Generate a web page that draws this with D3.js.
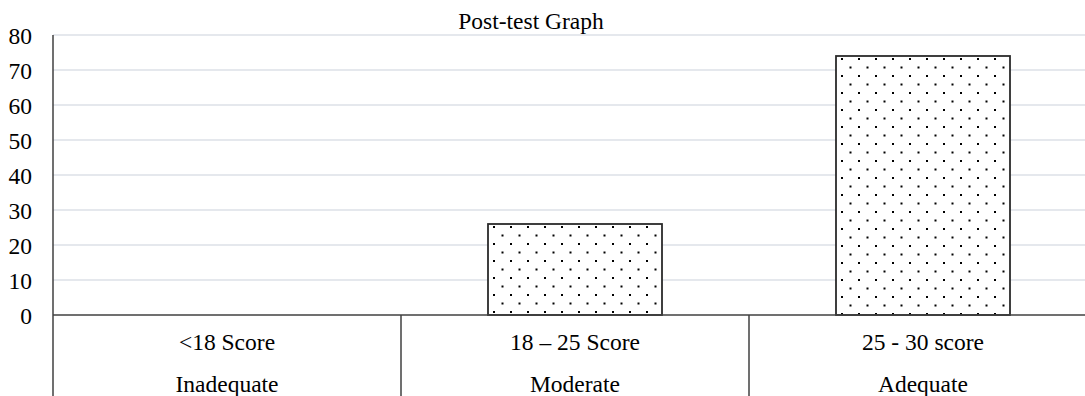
<!DOCTYPE html>
<html>
<head>
<meta charset="utf-8">
<script src="https://cdn.jsdelivr.net/npm/d3@7/dist/d3.min.js"></script>
<style>
  html, body { margin: 0; padding: 0; background: #fff; }
  svg { display: block; font-family: "Liberation Serif", "Times New Roman", serif; }
</style>
</head>
<body>
<svg id="chart" width="1085" height="396"></svg>
<script>
// Post-test score distribution
const categories = ["<18 Score", "18 \u2013 25 Score", "25 - 30 score"];
const levels = ["Inadequate", "Moderate", "Adequate"];
const values = [0, 26, 74];
const yTicks = [0, 10, 20, 30, 40, 50, 60, 70, 80];
const title = "Post-test Graph";

const W = 1085, H = 396;
const left = 53, zeroY = 315, topY = 35, bandW = 348;
const fontSize = 23.5;
const serif = "Liberation Serif, Times New Roman, serif";

const svg = d3.select("#chart");

const x = d3.scaleBand()
  .domain(categories)
  .range([left, left + bandW * categories.length])
  .paddingInner(0).paddingOuter(0);

const y = d3.scaleLinear().domain([0, 80]).range([zeroY, topY]);

// horizontal gridlines
svg.append("g")
  .selectAll("line")
  .data(yTicks.filter(t => t > 0))
  .join("line")
  .attr("x1", left).attr("x2", W)
  .attr("y1", d => y(d)).attr("y2", d => y(d))
  .attr("stroke", "#dde1e7").attr("stroke-width", 1.6);

// y tick labels
const yAxis = d3.axisLeft(y).tickValues(yTicks).tickSize(0).tickPadding(21);
const gy = svg.append("g").attr("transform", `translate(${left},0)`).call(yAxis);
gy.attr("font-family", serif);
gy.select(".domain").remove();
gy.selectAll("text")
  .attr("font-size", fontSize)
  .attr("fill", "#000")
  .attr("dy", "0.34em");

// dotted fill patterns, one per bar so the dots start at each bar's corner
const defs = svg.append("defs");
categories.forEach((c, i) => {
  const p = defs.append("pattern")
    .attr("id", "dots" + i)
    .attr("patternUnits", "userSpaceOnUse")
    .attr("width", 17).attr("height", 17)
    .attr("x", Math.round(x(c) + bandW / 4) + 5)
    .attr("y", Math.round(y(values[i])) + 2);
  p.append("rect").attr("width", 17).attr("height", 17).attr("fill", "#fff");
  p.append("rect").attr("x", 0).attr("y", 0).attr("width", 2).attr("height", 2).attr("fill", "#000");
  p.append("rect").attr("x", 8.5).attr("y", 8.5).attr("width", 2).attr("height", 2).attr("fill", "#000");
});

// bars
svg.append("g")
  .selectAll("rect")
  .data(categories.map((c, i) => ({ c, v: values[i], i })).filter(d => d.v > 0))
  .join("rect")
  .attr("x", d => x(d.c) + x.bandwidth() / 4)
  .attr("y", d => y(d.v))
  .attr("width", x.bandwidth() / 2)
  .attr("height", d => y(0) - y(d.v))
  .attr("fill", d => `url(#dots${d.i})`)
  .attr("stroke", "#2b2b2b")
  .attr("stroke-width", 1.8);

// axes lines and category dividers
const axisColor = "#404040";
svg.append("line")
  .attr("x1", left).attr("x2", left).attr("y1", topY).attr("y2", H)
  .attr("stroke", axisColor).attr("stroke-width", 1.5);
svg.append("line")
  .attr("x1", left).attr("x2", W).attr("y1", zeroY).attr("y2", zeroY)
  .attr("stroke", axisColor).attr("stroke-width", 1.5);
svg.append("g")
  .selectAll("line")
  .data(categories.slice(1))
  .join("line")
  .attr("x1", d => x(d)).attr("x2", d => x(d))
  .attr("y1", zeroY).attr("y2", H)
  .attr("stroke", axisColor).attr("stroke-width", 1.5);

// category labels (two rows)
const labels = svg.append("g")
  .attr("font-family", serif)
  .attr("font-size", fontSize)
  .attr("text-anchor", "middle")
  .attr("fill", "#000");
labels.selectAll("text.cat")
  .data(categories)
  .join("text")
  .attr("class", "cat")
  .attr("x", d => x(d) + x.bandwidth() / 2)
  .attr("y", 350)
  .text(d => d);
labels.selectAll("text.lvl")
  .data(levels)
  .join("text")
  .attr("class", "lvl")
  .attr("x", (d, i) => x(categories[i]) + x.bandwidth() / 2)
  .attr("y", 392)
  .text(d => d);

// title
svg.append("text")
  .attr("x", 531).attr("y", 29)
  .attr("text-anchor", "middle")
  .attr("font-family", serif)
  .attr("font-size", fontSize)
  .attr("fill", "#000")
  .text(title);
</script>
</body>
</html>
